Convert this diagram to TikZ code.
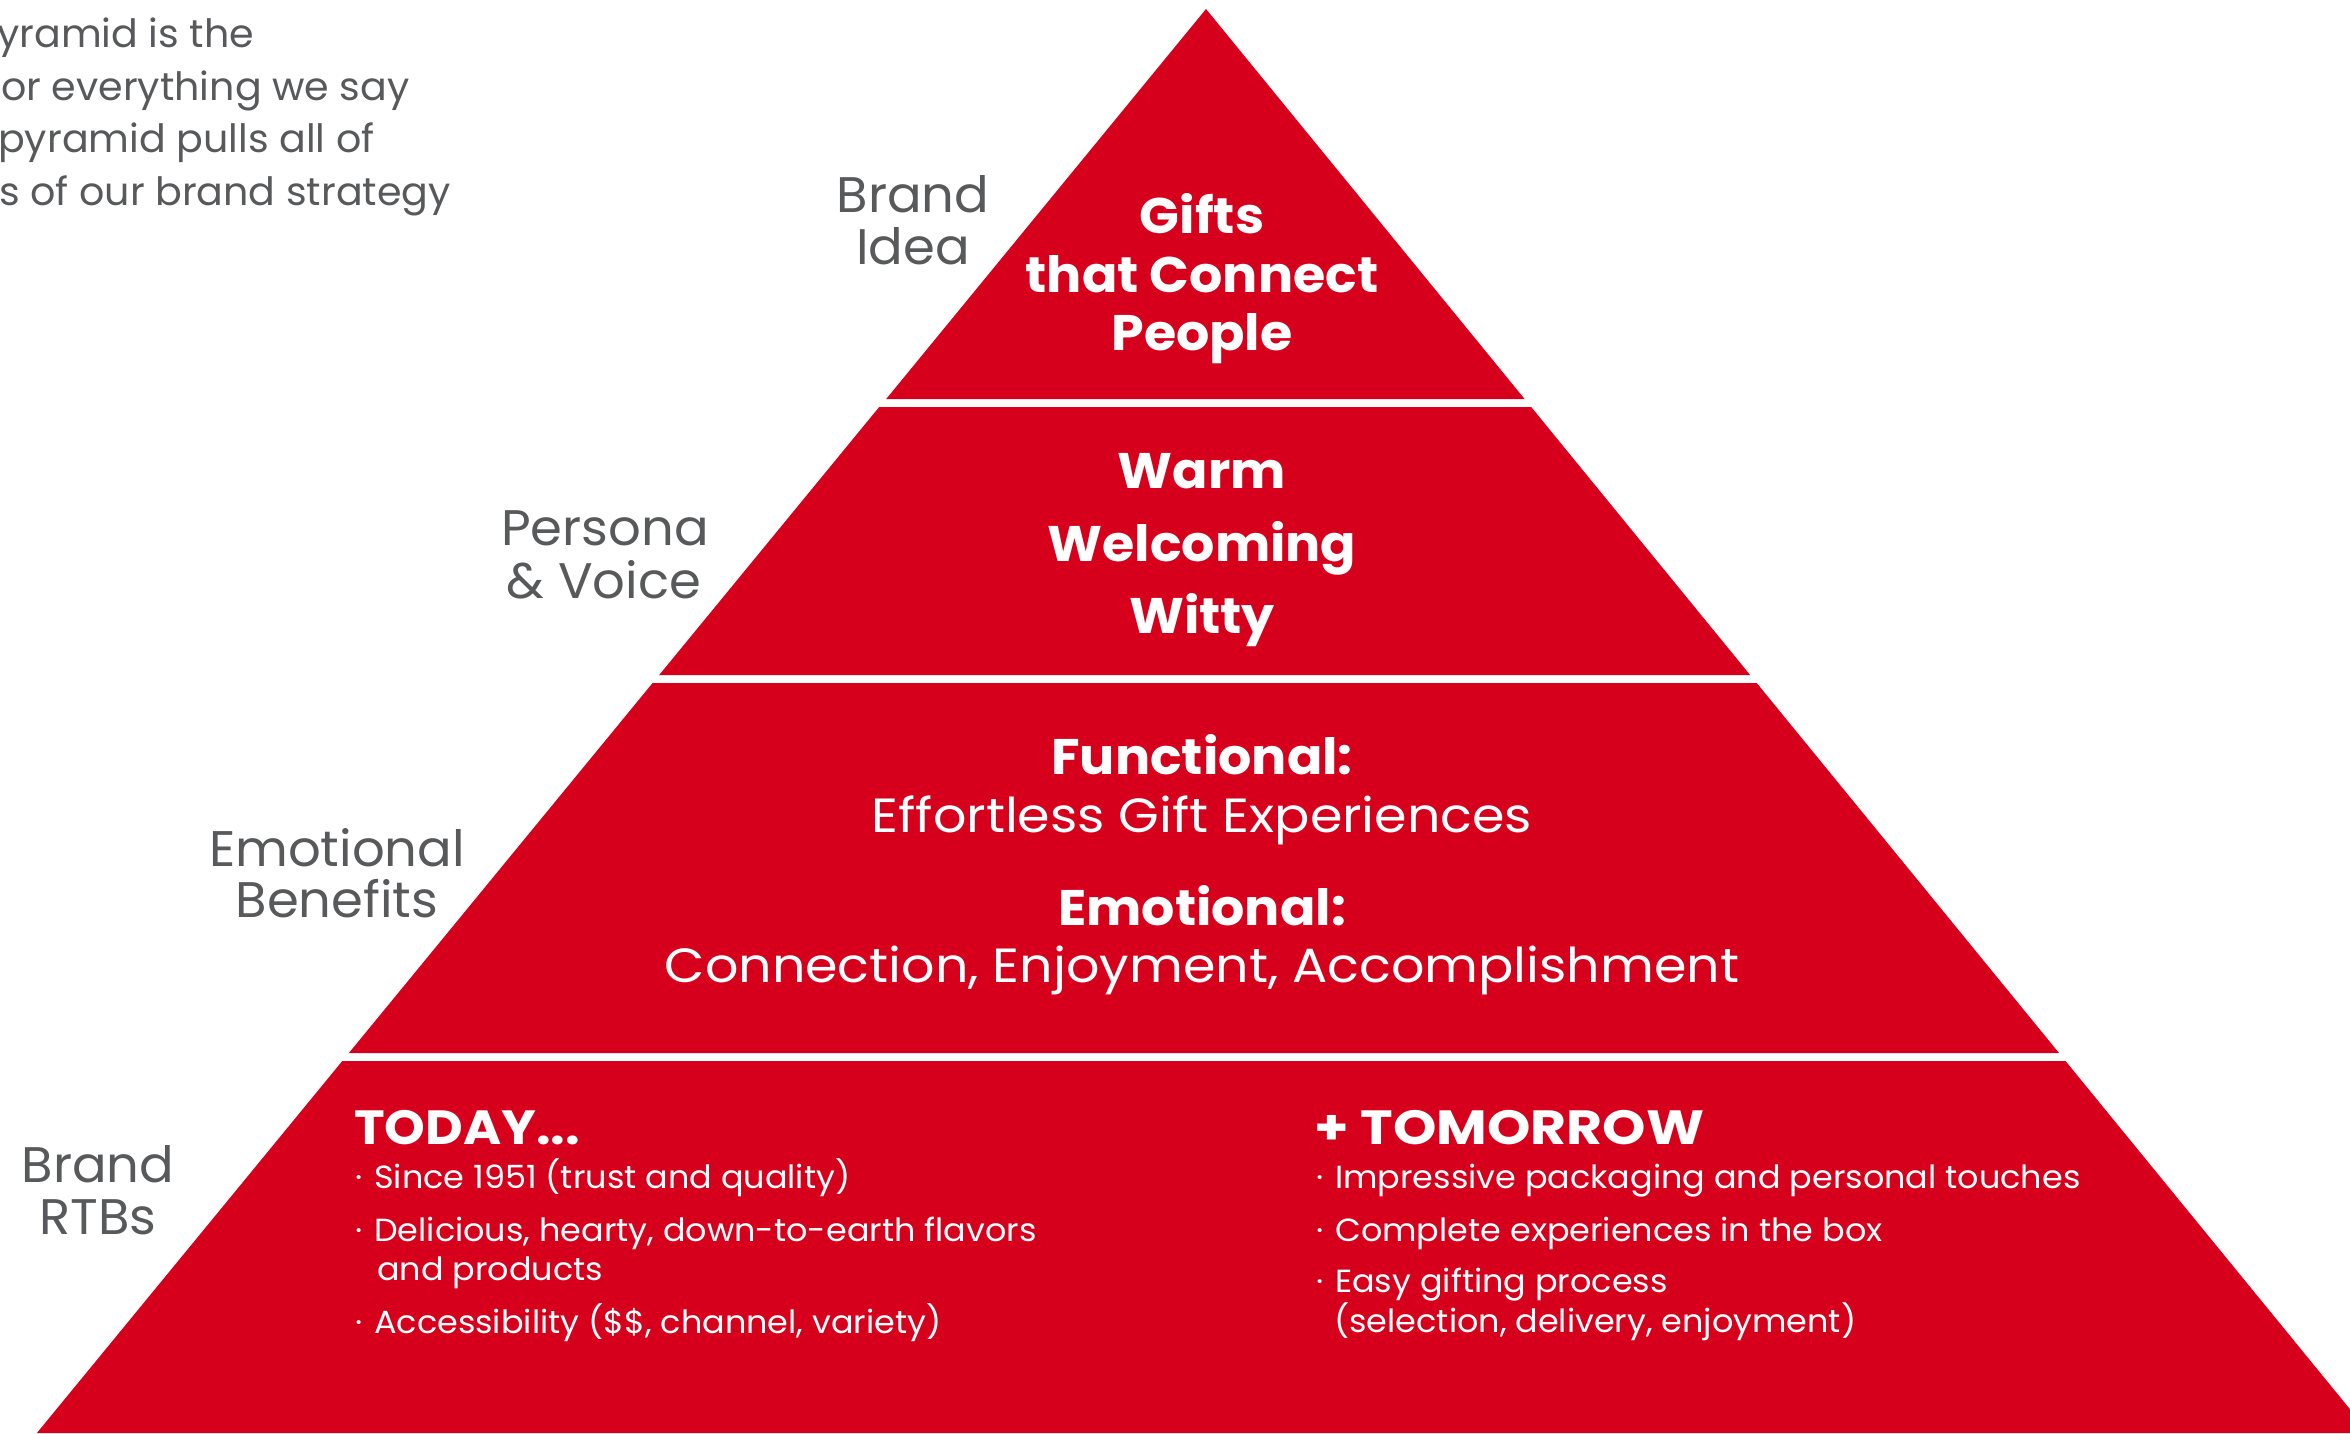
\documentclass[tikz,border=0pt]{standalone}
\usepackage{fontspec}
\setmainfont{Poppins}
\definecolor{pyrred}{RGB}{214,0,28}
\definecolor{labelgray}{RGB}{88,89,91}
\newcommand{\stretchfont}[1]{\addfontfeatures{FakeStretch=#1}}
\newcommand{\bul}{\makebox[19pt][l]{·}}
\begin{document}
\begin{tikzpicture}[x=1pt,y=-1pt,
  layer/.style={fill=pyrred,draw=none},
  sidelabel/.style={inner sep=0,anchor=base,text=labelgray,font=\fontsize{50}{50}\selectfont\stretchfont{1.025}},
  intro/.style={inner sep=0,anchor=base west,text=labelgray,font=\fontsize{39}{39}\selectfont\stretchfont{1.015}},
  boldline/.style={inner sep=0,anchor=base,text=white,font=\fontsize{50}{50}\selectfont\bfseries\stretchfont{1.045}},
  regline/.style={inner sep=0,anchor=base,text=white,font=\fontsize{48}{48}\selectfont\stretchfont{1.09}},
  heading/.style={inner sep=0,anchor=base west,text=white,font=\fontsize{48}{48}\selectfont\bfseries\stretchfont{1.08}},
  bullet/.style={inner sep=0,anchor=base west,text=white,font=\fontsize{32}{32}\selectfont\stretchfont{1.045}},
]
\useasboundingbox (0,0) rectangle (2350,1433);
\clip (0,0) rectangle (2350,1433);
% pyramid layers
\fill[layer] (1206,9) -- (1524.6,399) -- (886.2,399) -- cycle;
\fill[layer] (879.2,407) -- (1531.2,407) -- (1750.1,675) -- (659.2,675) -- cycle;
\fill[layer] (652.6,683) -- (1756.7,683) -- (2059.0,1053) -- (348.9,1053) -- cycle;
\fill[layer] (342.3,1061) -- (2065.5,1061) -- (2369.4,1433) -- (36.9,1433) -- cycle;
% intro text (cut off at left edge)
\node[intro] (i1) at (-3,47) {yramid is the};
\node[intro] (i2) at (1,100) {or everything we say};
\node[intro] (i3) at (-2,152) {pyramid pulls all of};
\node[intro] (i4) at (-1,205) {s of our brand strategy};
% side labels
\node[sidelabel] (l1a) at (913,212) {Brand};
\node[sidelabel] (l1b) at (913,264) {Idea};
\node[sidelabel] (l2a) at (605,545) {Persona};
\node[sidelabel] (l2b) at (604,598) {\& Voice};
\node[sidelabel] (l3a) at (337,866) {Emotional};
\node[sidelabel] (l3b) at (337,917) {Benefits};
\node[sidelabel] (l4a) at (98,1182) {Brand};
\node[sidelabel] (l4b) at (98,1234) {RTBs};
% layer 1
\node[boldline] (t1a) at (1202,233) {Gifts};
\node[boldline] (t1b) at (1202,292) {that Connect};
\node[boldline] (t1c) at (1202,350) {People};
% layer 2
\node[boldline] (t2a) at (1202,488) {Warm};
\node[boldline] (t2b) at (1202,561) {Welcoming};
\node[boldline] (t2c) at (1202,633) {Witty};
% layer 3
\node[boldline] (t3a) at (1202,774) {Functional:};
\node[regline] (t3b) at (1202,832) {Effortless Gift Experiences};
\node[boldline] (t3c) at (1202,925) {Emotional:};
\node[regline] (t3d) at (1202,982) {Connection, Enjoyment, Accomplishment};
% layer 4 left
\node[heading] (today) at (354,1144) {TODAY...};
\node[bullet] (a1) at (355,1188) {\bul Since 1951 (trust and quality)};
\node[bullet] (a2) at (355,1241) {\bul Delicious, hearty, down-to-earth flavors};
\node[bullet] (a2b) at (377,1280) {and products};
\node[bullet] (a3) at (355,1333) {\bul Accessibility (\$\$, channel, variety)};
% layer 4 right
\node[heading,font=\fontsize{48}{48}\selectfont\bfseries\stretchfont{1.15}] (tomorrow) at (1314,1144) {+ TOMORROW};
\node[bullet] (b1) at (1316,1188) {\bul Impressive packaging and personal touches};
\node[bullet] (b2) at (1316,1241) {\bul Complete experiences in the box};
\node[bullet] (b3) at (1316,1292) {\bul Easy gifting process};
\node[bullet] (b3b) at (1334,1332) {(selection, delivery, enjoyment)};
\end{tikzpicture}
\end{document}
